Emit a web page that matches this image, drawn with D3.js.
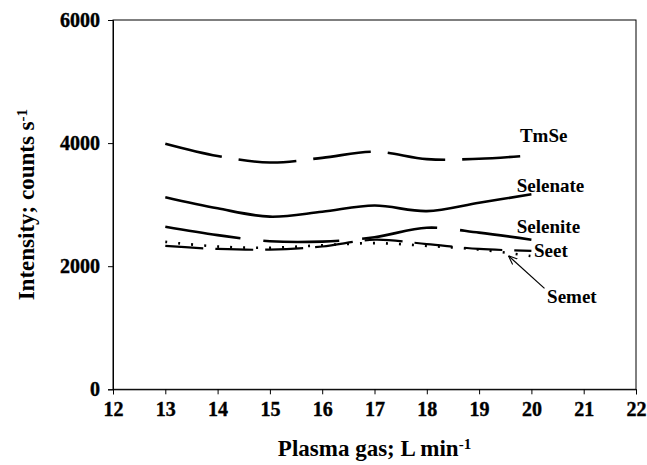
<!DOCTYPE html>
<html>
<head>
<meta charset="utf-8">
<script src="https://cdn.jsdelivr.net/npm/d3@7/dist/d3.min.js"></script>
<style>
  body { margin: 0; background: #fff; }
</style>
</head>
<body>
<svg id="chart" width="647" height="465"></svg>
<script>
// plasma gas flow values (L/min)
const flows = [13, 14, 15, 16, 17, 18, 19, 20];

// intensities (counts/s)
const tmse     = [3990, 3790, 3685, 3760, 3860, 3740, 3745, 3800];
const selenate = [3120, 2940, 2805, 2885, 2985, 2895, 3030, 3170];
const selenite = [2640, 2505, 2405, 2400, 2470, 2625, 2545, 2430];
const seet     = [2330, 2280, 2270, 2320, 2430, 2360, 2280, 2250];
const semet    = [2395, 2320, 2300, 2340, 2375, 2330, 2270, 2165];

const xTicks = [12, 13, 14, 15, 16, 17, 18, 19, 20, 21, 22];
const yTicks = [0, 2000, 4000, 6000];

// series labels, placed in data units
const labels = [
  { text: 'TmSe',     x: 19.78, y: 4130 },
  { text: 'Selenate', x: 19.72, y: 3320 },
  { text: 'Selenite', x: 19.72, y: 2640 },
  { text: 'Seet',     x: 20.05, y: 2262 },
  { text: 'Semet',    x: 20.3,  y: 1505 }
];

const FONT = 'Liberation Serif';
const width = 647;
const height = 465;
const margin = { top: 20, right: 11, bottom: 75.7, left: 113 };
const chartWidth = width - margin.left - margin.right;
const chartHeight = height - margin.top - margin.bottom;

// every text gets its font set on itself
function font(sel, size) {
    return sel.attr('font-family', FONT)
        .attr('font-weight', 'bold')
        .attr('font-size', size)
        .attr('fill', '#000');
}

const svg = d3.select('#chart')
    .append('g')
    .attr('transform', `translate(${margin.left}, ${margin.top})`);

const xScale = d3.scaleLinear().domain([12, 22]).range([0, chartWidth]);
const yScale = d3.scaleLinear().domain([0, 6000]).range([chartHeight, 0]);

// frame
svg.append('rect')
    .attr('width', chartWidth)
    .attr('height', chartHeight)
    .attr('fill', 'none')
    .attr('stroke', '#000')
    .attr('stroke-width', 1);

// axes
const xAxis = svg.append('g')
    .attr('transform', `translate(0, ${chartHeight})`)
    .call(d3.axisBottom(xScale).tickValues(xTicks).tickSize(5).tickPadding(8).tickFormat(d3.format('d')));
const yAxis = svg.append('g')
    .call(d3.axisLeft(yScale).tickValues(yTicks).tickSize(5).tickPadding(8).tickFormat(d3.format('d')));

[xAxis, yAxis].forEach(ax => {
    ax.attr('font-family', null).attr('font-size', null);
    ax.select('.domain').attr('stroke', '#000');
    ax.selectAll('line').attr('stroke', '#000');
    font(ax.selectAll('text'), 20)
        .attr('stroke', '#000')
        .attr('stroke-width', 0.4);
});

// lines
const line = d3.line()
    .x((d, i) => xScale(flows[i]))
    .y(d => yScale(d))
    .curve(d3.curveCatmullRom.alpha(0));

const series = [
    { values: tmse,     dash: '58,17', w: 2.6 },
    { values: selenate, dash: null,    w: 2.6 },
    { values: selenite, dash: '76,23', w: 2.6 },
    { values: seet,     dash: '38,12', w: 2.2 },
    { values: semet,    dash: '2,11',  w: 2.6 }
];

svg.selectAll('path.series')
    .data(series)
    .enter()
    .append('path')
    .attr('class', 'series')
    .attr('d', d => line(d.values))
    .attr('fill', 'none')
    .attr('stroke', '#000')
    .attr('stroke-width', d => d.w)
    .attr('stroke-dasharray', d => d.dash);

// series labels
font(svg.selectAll('text.lbl')
    .data(labels)
    .enter()
    .append('text')
    .attr('class', 'lbl')
    .attr('x', d => xScale(d.x))
    .attr('y', d => yScale(d.y))
    .attr('dy', '0.35em')
    .text(d => d.text), 19);

// arrow from Semet label to its line
svg.append('defs').append('marker')
    .attr('id', 'arrow')
    .attr('viewBox', '0 0 10 10')
    .attr('refX', 10)
    .attr('refY', 5)
    .attr('markerWidth', 9)
    .attr('markerHeight', 9)
    .attr('markerUnits', 'userSpaceOnUse')
    .attr('orient', 'auto')
    .append('path')
    .attr('d', 'M0,1 L10,5 L0,9')
    .attr('fill', 'none')
    .attr('stroke', '#000')
    .attr('stroke-width', 1.2);

svg.append('line')
    .attr('x1', xScale(20.25))
    .attr('y1', yScale(1640))
    .attr('x2', xScale(19.56))
    .attr('y2', yScale(2170))
    .attr('stroke', '#000')
    .attr('stroke-width', 1.2)
    .attr('marker-end', 'url(#arrow)');

// x-axis title
const xTitle = font(svg.append('text'), 23)
    .attr('x', chartWidth / 2)
    .attr('y', chartHeight + 67)
    .attr('text-anchor', 'middle');
font(xTitle.append('tspan'), 23).text('Plasma gas; L min');
font(xTitle.append('tspan'), 15).attr('dy', '-0.5em').text('-1');

// y-axis title
const yTitle = font(svg.append('text'), 23)
    .attr('transform', 'rotate(-90)')
    .attr('x', -chartHeight / 2)
    .attr('y', -margin.left + 34)
    .attr('text-anchor', 'middle');
font(yTitle.append('tspan'), 23).text('Intensity; counts s');
font(yTitle.append('tspan'), 15).attr('dy', '-0.5em').text('-1');
</script>
</body>
</html>
